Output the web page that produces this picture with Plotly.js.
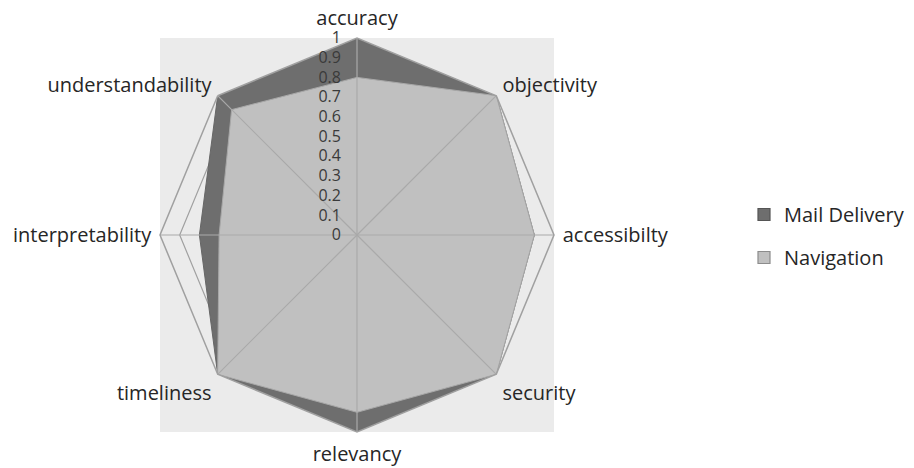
<!DOCTYPE html>
<html>
<head>
<meta charset="utf-8">
<script src="https://cdn.plot.ly/plotly-3.0.1.min.js"></script>
<style>html,body{margin:0;padding:0;background:#fff;}#chart{width:914px;height:468px;}</style>
</head>
<body>
<div id="chart"></div>
<script>
var categories = ["accuracy", "objectivity", "accessibilty", "security", "relevancy", "timeliness", "interpretability", "understandability"];
var mailDelivery = [1.0, 1.0, 0.9, 1.0, 1.0, 1.0, 0.8, 1.0];
var navigation = [0.8, 1.0, 0.9, 1.0, 0.9, 1.0, 0.7, 0.9];
var radialTicks = [0, 0.1, 0.2, 0.3, 0.4, 0.5, 0.6, 0.7, 0.8, 0.9, 1];
var seriesNames = ["Mail Delivery", "Navigation"];
var radialMax = 1;

function closeLoop(arr) { return arr.concat([arr[0]]); }

var spokeR = [], spokeTheta = [];
categories.forEach(function (c) {
  spokeR.push(0, radialMax, null);
  spokeTheta.push(c, c, c);
});

var fills = ["#6e6e6e", "#c0c0c0"];
var edges = ["#666666", "#a8a8a8"];
var legendEdges = ["#555555", "#8c8c8c"];
var seriesValues = [mailDelivery, navigation];

var traces = [];
seriesValues.forEach(function (vals, i) {
  traces.push({
    type: "scatterpolar", name: seriesNames[i], showlegend: false, legendgroup: "g" + i,
    r: closeLoop(vals), theta: closeLoop(categories),
    mode: "lines", fill: "toself", fillcolor: fills[i],
    line: { color: edges[i], width: 1 }
  });
});
traces.push({
  type: "scatterpolar", name: "spokes", showlegend: false, hoverinfo: "skip",
  r: spokeR, theta: spokeTheta, mode: "lines", connectgaps: false,
  line: { color: "#a9a9a9", width: 1.2 }
});
seriesValues.forEach(function (vals, i) {
  traces.push({
    type: "scatterpolar", name: seriesNames[i], legendgroup: "g" + i,
    r: [null], theta: [categories[0]], mode: "markers",
    marker: { symbol: "square", size: 12, color: fills[i], line: { color: legendEdges[i], width: 1.2 } }
  });
});

var dx0 = 160 / 914, dx1 = 554 / 914, dy0 = 1 - 432 / 468, dy1 = 1 - 38 / 468;

var layout = {
  width: 914, height: 468,
  margin: { l: 0, r: 0, t: 0, b: 0 },
  paper_bgcolor: "#ffffff",
  font: { family: "Open Sans, Noto Sans, sans-serif", color: "#262626", size: 20 },
  shapes: [{
    type: "rect", xref: "paper", yref: "paper", layer: "below",
    x0: dx0, x1: dx1, y0: dy0, y1: dy1,
    fillcolor: "#ebebeb", line: { width: 0 }
  }],
  polar: {
    domain: { x: [dx0, dx1], y: [dy0, dy1] },
    bgcolor: "rgba(0,0,0,0)",
    gridshape: "linear",
    angularaxis: {
      type: "category", rotation: 90, direction: "clockwise",
      showgrid: false, showline: true, linecolor: "#a0a0a0", linewidth: 1.5,
      ticks: "outside", ticklen: 4, tickcolor: "rgba(0,0,0,0)",
      tickfont: { size: 20, color: "#262626" }
    },
    radialaxis: {
      range: [0, radialMax], angle: 90, side: "counterclockwise",
      tickvals: radialTicks, ticktext: radialTicks.map(String),
      tickangle: 90, showline: false,
      ticks: "outside", ticklen: 10, tickcolor: "rgba(0,0,0,0)",
      showgrid: true, gridcolor: "#a0a0a0", gridwidth: 1.2,
      tickfont: { size: 16, color: "#3a3a3a" }
    }
  },
  legend: {
    x: 744 / 914, y: 1 - 236 / 468, xanchor: "left", yanchor: "middle",
    font: { size: 20, color: "#262626" },
    itemwidth: 30, tracegroupgap: 14, bgcolor: "rgba(0,0,0,0)"
  },
  showlegend: true
};

Plotly.newPlot("chart", traces, layout, { displayModeBar: false, staticPlot: true });
</script>
</body>
</html>
